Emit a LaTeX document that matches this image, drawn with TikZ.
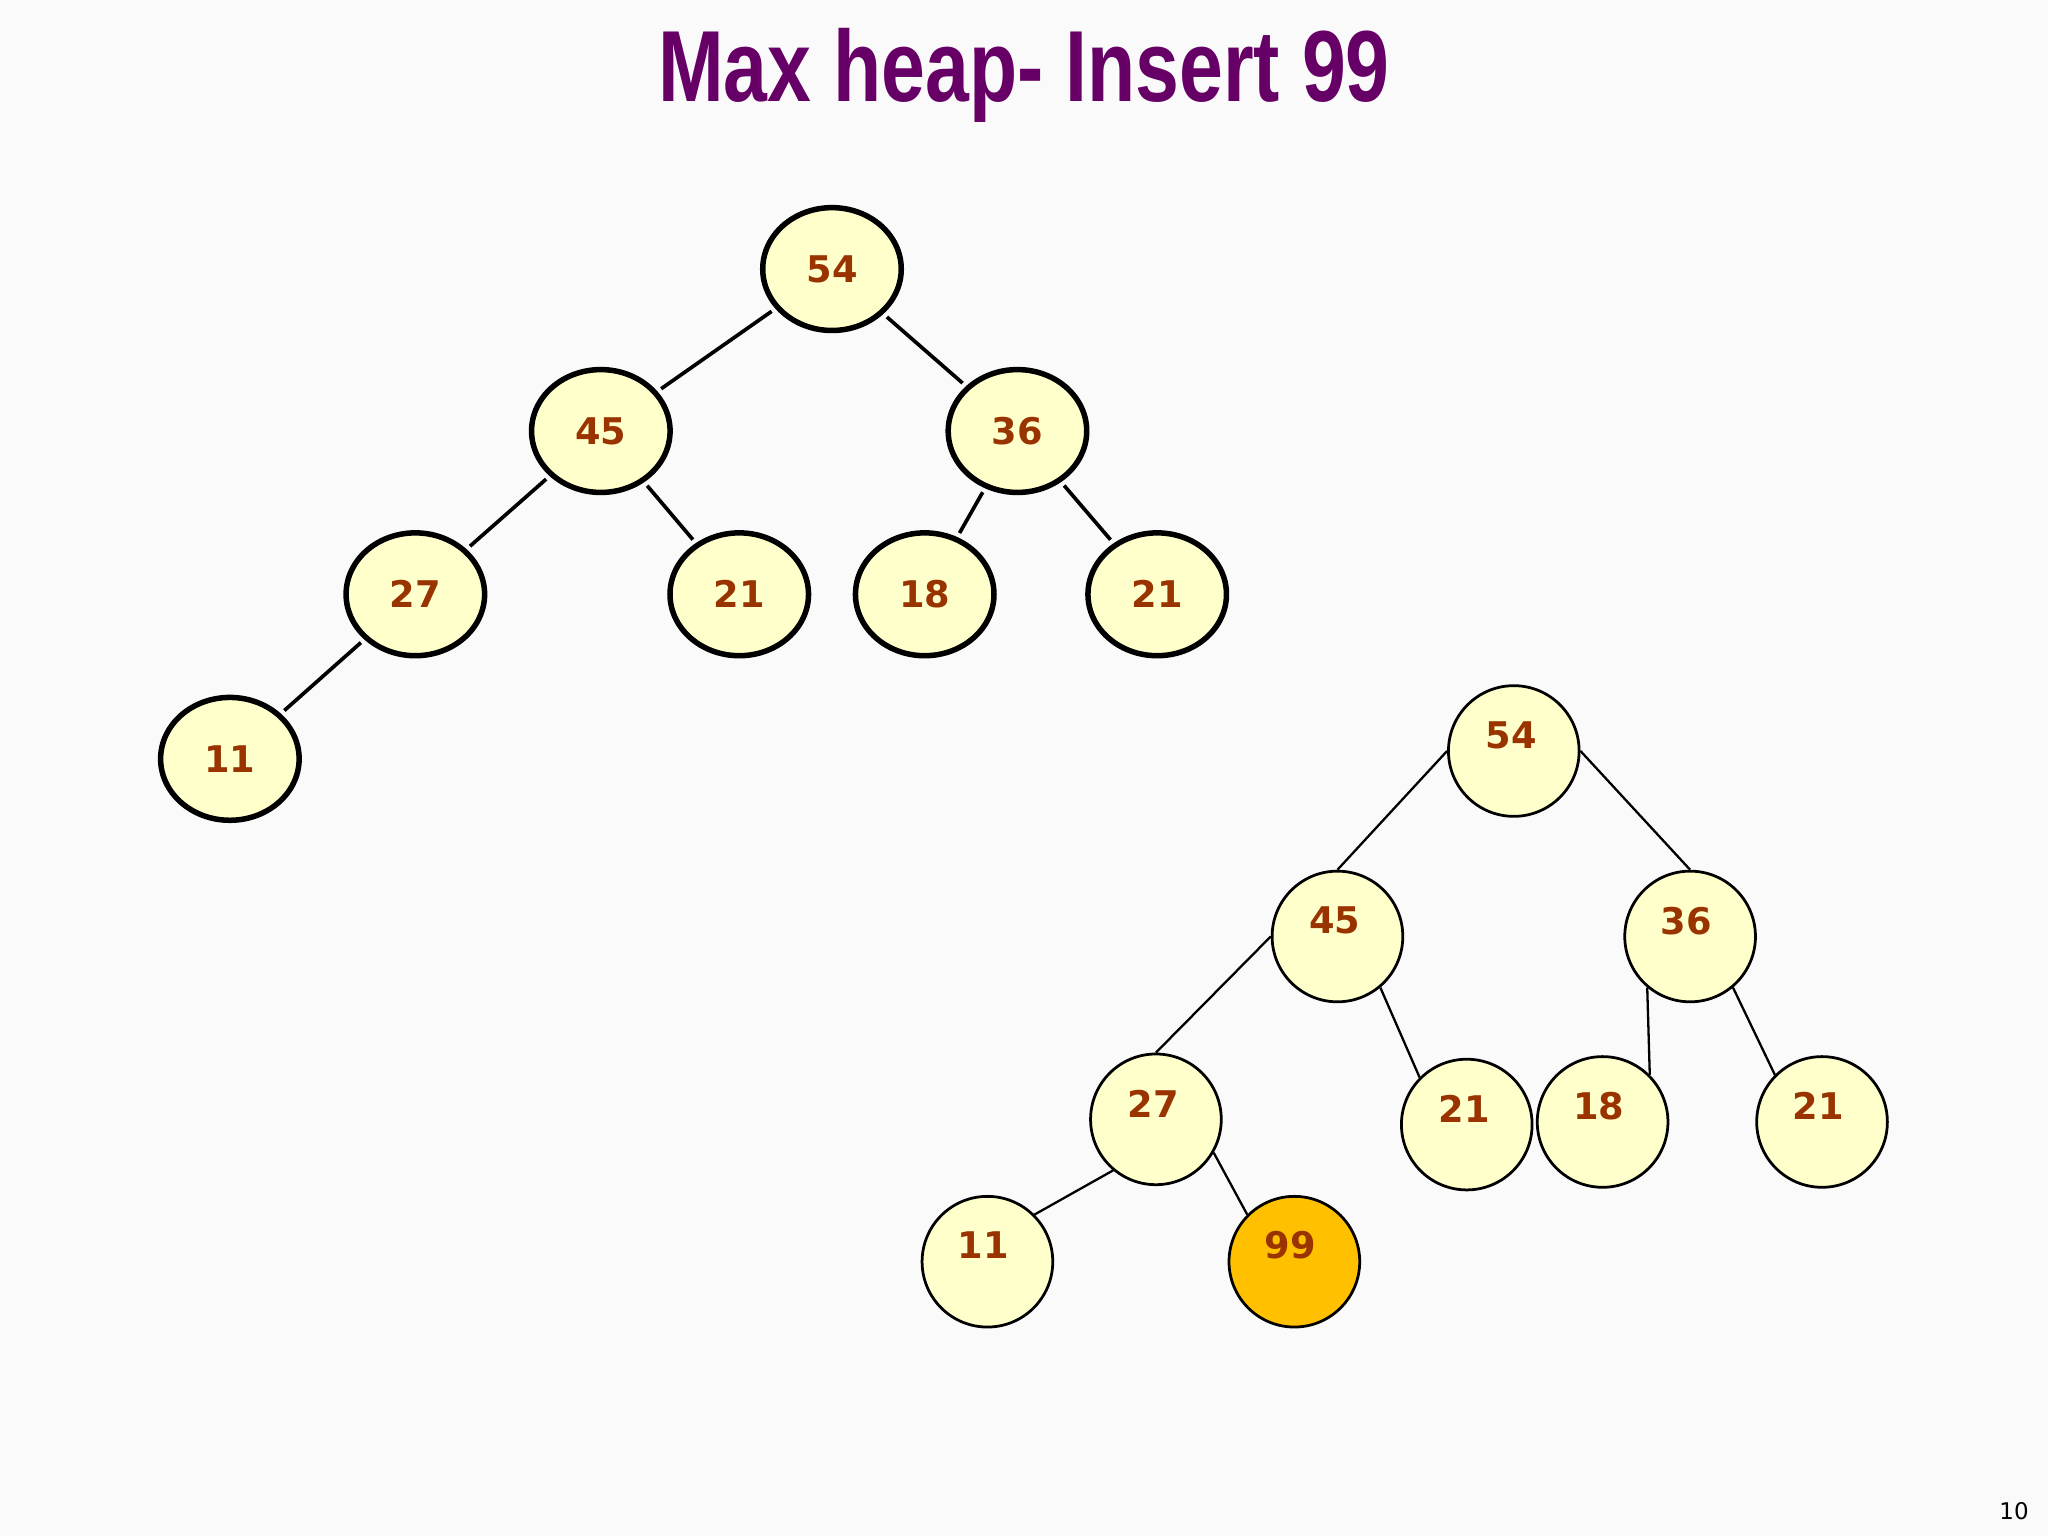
\documentclass[tikz,border=0pt]{standalone}
\usepackage{fontspec}
\usepackage{graphicx}
\usetikzlibrary{shapes.geometric}
\setmainfont{DejaVu Sans}
\newfontfamily\titlefont{Liberation Sans}
\definecolor{nodefill}{HTML}{FFFFCC}
\definecolor{numcol}{HTML}{993300}
\definecolor{titlecol}{HTML}{660066}
\definecolor{hot}{HTML}{FFC000}
\begin{document}
\begin{tikzpicture}[x=0.01cm,y=-0.01cm,
  topn/.style={ellipse,draw,line width=1.2pt,fill=nodefill,minimum width=1.06cm,minimum height=0.94cm,inner sep=0pt,font=\fontsize{8}{9}\selectfont\bfseries,text=numcol},
  botn/.style={circle,draw,line width=0.6pt,fill=nodefill,minimum size=1.0cm,inner sep=0pt},
  num/.style={font=\fontsize{8}{9}\selectfont\bfseries,text=numcol,inner sep=0pt},
  topedge/.style={line width=0.8pt,shorten <=1pt,shorten >=1pt},
  botedge/.style={line width=0.5pt}]
\useasboundingbox (0,0) rectangle (1568,1176);
\fill[white!98!black] (0,0) rectangle (1568,1176);
\node[text=titlecol,font=\titlefont\fontsize{22}{26}\selectfont\bfseries] (title) at (784,58) {\scalebox{0.78}[1]{Max heap- Insert 99}};
% top tree
\node[topn] (a54) at (637,206) {54};
\node[topn] (a45) at (460,330) {45};
\node[topn] (a36) at (779,330) {36};
\node[topn] (a27) at (318,455) {27};
\node[topn] (a21) at (566,455) {21};
\node[topn] (a18) at (708,455) {18};
\node[topn] (a21b) at (886,455) {21};
\node[topn] (a11) at (176,581) {11};
\draw[topedge] (a54) -- (a45);
\draw[topedge] (a54) -- (a36);
\draw[topedge] (a45) -- (a27);
\draw[topedge] (a45) -- (a21);
\draw[topedge] (a36) -- (a18);
\draw[topedge] (a36) -- (a21b);
\draw[topedge] (a27) -- (a11);
% bottom tree
\node[botn] (b54) at (1159,575) {};
\node[botn] (b45) at (1024,717) {};
\node[botn] (b36) at (1294,717) {};
\node[botn] (b27) at (885,857) {};
\node[botn] (b21) at (1123,861) {};
\node[botn] (b18) at (1227,859) {};
\node[botn] (b21b) at (1395,859) {};
\node[botn] (b11) at (756,966) {};
\node[botn,fill=hot] (b99) at (991,966) {};
\node[num] (t54) at (1157,563) {54};
\node[num] (t45) at (1022,705) {45};
\node[num] (t36) at (1291,705) {36};
\node[num] (t27) at (883,845) {27};
\node[num] (t21) at (1121,849) {21};
\node[num] (t18) at (1224,847) {18};
\node[num] (t21b) at (1392,847) {21};
\node[num] (t11) at (753,953) {11};
\node[num] (t99) at (988,953) {99};
\draw[botedge] (b54.west) -- (b45.north);
\draw[botedge] (b54.east) -- (b36.north);
\draw[botedge] (b45.west) -- (b27.north);
\draw[botedge] (b45.-50) -- (b21.north west);
\draw[botedge] (b36.-130) -- (b18.north east);
\draw[botedge] (b36.-50) -- (b21b.north west);
\draw[botedge] (b27.-130) -- (b11.north east);
\draw[botedge] (b27.-30) -- (b99.north west);
\node[font=\fontsize{5}{6}\selectfont] (pg) at (1542,1157) {10};
\end{tikzpicture}
\end{document}
